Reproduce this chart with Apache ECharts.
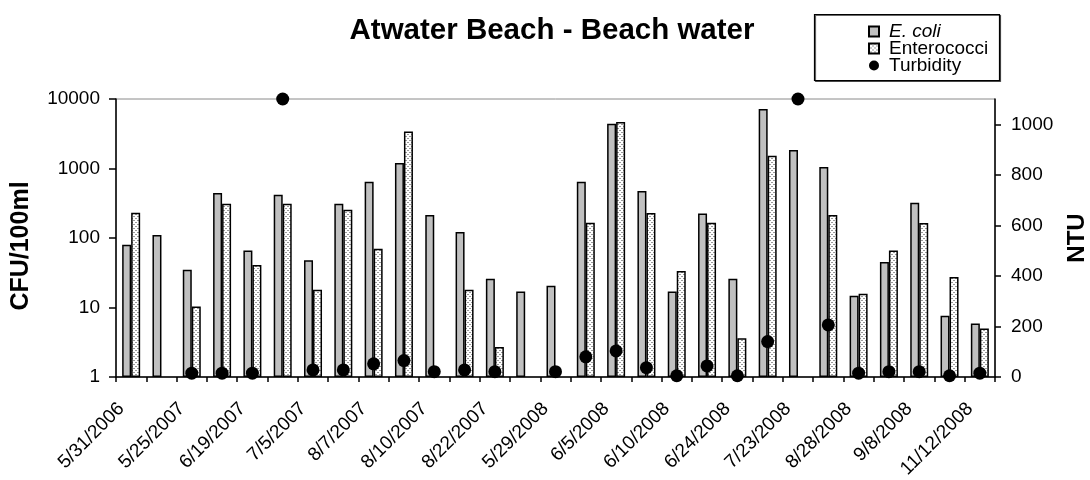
<!DOCTYPE html>
<html>
<head>
<meta charset="utf-8">
<script src="https://cdn.jsdelivr.net/npm/echarts@6/dist/echarts.min.js"></script>
<style>
  html, body { margin: 0; padding: 0; background: #fff; }
  #chart { width: 1090px; height: 480px; }
</style>
</head>
<body>
<div id="chart"></div>
<script>
// Sampling dates (every other one is labelled on the axis)
const dates = [
  '5/31/2006', '5/23/2007', '5/25/2007', '6/12/2007', '6/19/2007', '6/27/2007',
  '7/5/2007', '7/24/2007', '8/7/2007', '8/8/2007', '8/10/2007', '8/15/2007',
  '8/22/2007', '8/29/2007', '5/29/2008', '6/3/2008', '6/5/2008', '6/9/2008',
  '6/10/2008', '6/17/2008', '6/24/2008', '7/8/2008', '7/23/2008', '8/13/2008',
  '8/28/2008', '9/3/2008', '9/8/2008', '10/8/2008', '11/12/2008'
];

// E. coli counts, CFU/100ml
const ecoli = [
  80, 110, 35, 445, 66, 420, 48, 310, 645, 1200, 215, 122,
  26, 17, 20.5, 645, 4400, 475, 17, 226, 26, 7200, 1850, 1050,
  14.8, 45, 322, 7.6, 5.9
];

// Enterococci counts, CFU/100ml (null = not sampled)
const enterococci = [
  230, null, 10.3, 310, 41, 310, 18, 255, 70, 3400, null, 18,
  2.7, null, null, 166, 4650, 229, 33.5, 166, 3.6, 1520, null, 214,
  15.8, 66, 164, 27.5, 5
];

// Turbidity, NTU (null = not measured)
const turbidity = [
  null, null, 15, 15, 15, 1100, 28, 28, 52, 65, 21, 28,
  21, null, 21, 80, 103, 37, 5, 44, 5, 140, 1100, 206,
  15, 21, 21, 5, 15
];

const cfuTicks = ['1', '10', '100', '1000', '10000'];
const ntuTicks = ['0', '200', '400', '600', '800', '1000'];

const FONT = '"Liberation Sans", Arial, sans-serif';

// Dashed-dot fill used for the Enterococci bars
function makeDashPattern() {
  const c = document.createElement('canvas');
  c.width = 4; c.height = 4;
  const g = c.getContext('2d');
  g.fillStyle = '#ffffff';
  g.fillRect(0, 0, 4, 4);
  g.fillStyle = '#9a9a9a';
  g.fillRect(1, 0, 2, 1);
  g.fillRect(3, 2, 1, 1);
  g.fillRect(0, 2, 1, 1);
  return c;
}
const dashFill = { image: makeDashPattern(), repeat: 'repeat' };

const chart = echarts.init(document.getElementById('chart'), null, { renderer: 'canvas' });

chart.setOption({
  animation: false,
  backgroundColor: '#ffffff',
  textStyle: { fontFamily: FONT, color: '#000' },
  title: {
    text: 'Atwater Beach - Beach water',
    left: 547,
    top: 11,
    textAlign: 'center',
    textStyle: { fontFamily: FONT, fontSize: 29.5, fontWeight: 'bold', color: '#000' }
  },
  graphic: [{
    type: 'rect',
    shape: { x: 814.5, y: 14.5, width: 185, height: 66 },
    style: { fill: '#fff', stroke: '#000', lineWidth: 1.2, shadowColor: 'rgba(0,0,0,0.6)', shadowOffsetX: 1, shadowOffsetY: 1 },
    z: 0
  }],
  legend: {
    orient: 'vertical',
    left: 868,
    top: 22,
    padding: 0,
    itemWidth: 10,
    itemHeight: 10,
    itemGap: -2,
    z: 5,
    data: [
      { name: 'E. coli', icon: 'rect' },
      { name: 'Enterococci', icon: 'rect' },
      { name: 'Turbidity', icon: 'circle' }
    ],
    formatter: function (name) {
      return name === 'E. coli' ? '{i|E. coli}' : name;
    },
    textStyle: {
      fontFamily: FONT, fontSize: 19, color: '#000', padding: [0, 0, 0, 5],
      rich: { i: { fontFamily: FONT, fontSize: 19, fontStyle: 'italic', color: '#000' } }
    }
  },
  grid: {
    left: 116, right: 95, top: 99, bottom: 103,
    outerBoundsMode: 'none',
    show: true, borderColor: '#8a8a8a', borderWidth: 1, backgroundColor: 'transparent'
  },
  xAxis: {
    type: 'category',
    data: dates,
    axisLine: { lineStyle: { color: '#000', width: 1.5 } },
    axisTick: { show: true, interval: 0, length: 5, lineStyle: { color: '#000', width: 1.5 } },
    axisLabel: {
      interval: 1, rotate: 45, margin: 19, padding: [0, 14, 0, 0],
      fontFamily: FONT, fontSize: 19, color: '#000'
    },
    splitLine: { show: false }
  },
  yAxis: [
    {
      type: 'log',
      logBase: 10,
      min: 1,
      max: 10000,
      name: 'CFU/100ml',
      nameLocation: 'middle',
      nameGap: 82,
      nameRotate: 90,
      nameTextStyle: { fontFamily: FONT, fontSize: 25, fontWeight: 'bold', color: '#000', padding: [0, 16, 0, 0] },
      axisLine: { show: true, lineStyle: { color: '#000', width: 1.5 } },
      axisTick: { show: true, length: 7, lineStyle: { color: '#000', width: 1.5 } },
      axisLabel: {
        margin: 16, fontFamily: FONT, fontSize: 19, color: '#000',
        formatter: function (v) {
          const k = Math.round(Math.log10(v));
          return cfuTicks[k] !== undefined ? cfuTicks[k] : '';
        }
      },
      splitLine: { show: false }
    },
    {
      type: 'value',
      min: 0,
      max: 1100,
      interval: 200,
      name: 'NTU',
      nameLocation: 'middle',
      nameGap: 70,
      nameRotate: 90,
      nameTextStyle: { fontFamily: FONT, fontSize: 24, fontWeight: 'bold', color: '#000' },
      axisLine: { show: true, lineStyle: { color: '#000', width: 1.5 } },
      axisTick: { show: true, length: 6, lineStyle: { color: '#000', width: 1.5 } },
      axisLabel: {
        margin: 16, fontFamily: FONT, fontSize: 19, color: '#000', showMaxLabel: false,
        formatter: function (v) {
          const i = Math.round(v / 200);
          return v % 200 === 0 && ntuTicks[i] !== undefined ? ntuTicks[i] : '';
        }
      },
      splitLine: { show: false }
    }
  ],
  series: [
    {
      name: 'E. coli',
      type: 'bar',
      yAxisIndex: 0,
      data: ecoli,
      barWidth: 9,
      barGap: '0%',
      itemStyle: { color: '#c0c0c0', borderColor: '#000', borderWidth: 1.5 }
    },
    {
      name: 'Enterococci',
      type: 'bar',
      yAxisIndex: 0,
      data: enterococci,
      barWidth: 9,
      barGap: '0%',
      itemStyle: { color: dashFill, borderColor: '#000', borderWidth: 1.5 }
    },
    {
      name: 'Turbidity',
      type: 'scatter',
      yAxisIndex: 1,
      data: turbidity,
      symbol: 'circle',
      symbolSize: 13,
      clip: false,
      itemStyle: { color: '#000', opacity: 1 },
      z: 4
    }
  ]
});
</script>
</body>
</html>
